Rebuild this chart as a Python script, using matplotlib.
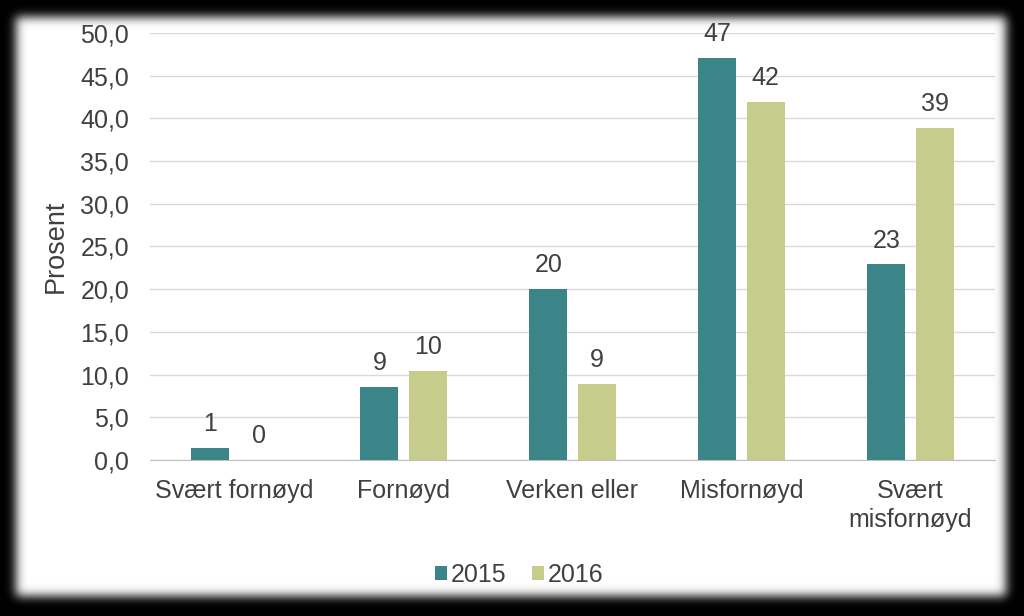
import numpy as np
import matplotlib
matplotlib.use("Agg")
import matplotlib.pyplot as plt
from matplotlib.ticker import FuncFormatter

categories = ["Svært fornøyd", "Fornøyd", "Verken eller", "Misfornøyd", "Svært\nmisfornøyd"]
values_2015 = [1.4, 8.6, 20.0, 47.1, 22.9]
values_2016 = [0.0, 10.4, 8.9, 41.9, 38.9]
labels_2015 = ["1", "9", "20", "47", "23"]
labels_2016 = ["0", "10", "9", "42", "39"]
series_names = ["2015", "2016"]

COLOR_2015 = "#3b8588"
COLOR_2016 = "#c6cc8c"
TEXT = "#404040"
GRID = "#d9d9d9"
FS = 18

plt.rcParams["font.family"] = ["Liberation Sans", "DejaVu Sans"]

W, H = 1024, 616
fig = plt.figure(figsize=(W / 100, H / 100), dpi=100)
fig.patch.set_facecolor("black")

# blurred white card on black background
def _blur(arr, sigma):
    r = int(3 * sigma)
    k = np.exp(-0.5 * (np.arange(-r, r + 1) / sigma) ** 2)
    k /= k.sum()
    arr = np.apply_along_axis(lambda m: np.convolve(np.pad(m, r, mode="edge"), k, mode="valid"), 0, arr)
    arr = np.apply_along_axis(lambda m: np.convolve(np.pad(m, r, mode="edge"), k, mode="valid"), 1, arr)
    return arr

card = np.zeros((H, W))
card[17:596, 16:1006] = 1.0
card = _blur(card, 5)
bg = fig.add_axes([0, 0, 1, 1], zorder=0)
bg.imshow(card, cmap="gray", vmin=0, vmax=1, aspect="auto", interpolation="bilinear")
bg.axis("off")

ax = fig.add_axes([150 / W, 1 - 460 / H, 845 / W, 427 / H], zorder=1)
ax.patch.set_alpha(0)

x = np.arange(len(categories))
width = 0.225
offset = 0.1425
bars1 = ax.bar(x - offset, values_2015, width, color=COLOR_2015, label=series_names[0], zorder=3)
bars2 = ax.bar(x + offset, values_2016, width, color=COLOR_2016, label=series_names[1], zorder=3)

for bars, labels in ((bars1, labels_2015), (bars2, labels_2016)):
    for b, lab in zip(bars, labels):
        ax.annotate(lab, (b.get_x() + b.get_width() / 2, b.get_height()),
                    xytext=(0, 8.5), textcoords="offset points",
                    ha="center", va="bottom", fontsize=FS, color=TEXT)

ax.set_xlim(-0.5, len(categories) - 0.5)
ax.set_ylim(0, 50)
ax.set_yticks(np.arange(0, 51, 5))
ax.yaxis.set_major_formatter(FuncFormatter(lambda v, p: f"{v:.1f}".replace(".", ",")))
ax.set_xticks(x)
ax.set_xticklabels(categories, linespacing=1.22)
ax.tick_params(axis="both", length=0, labelsize=FS, labelcolor=TEXT)
ax.tick_params(axis="x", pad=14)
ax.tick_params(axis="y", pad=15)
ax.grid(axis="y", color=GRID, linewidth=1, zorder=0)
for s in ("top", "right", "left"):
    ax.spines[s].set_visible(False)
ax.spines["bottom"].set_color("#bfbfbf")
ax.set_ylabel("Prosent", fontsize=19.5, color=TEXT, labelpad=8)

fig.legend(loc="center", bbox_to_anchor=(0.507, 1 - 575 / H), ncol=2, frameon=False,
           fontsize=FS, handlelength=0.5, handleheight=0.5, handletextpad=0.15,
           columnspacing=1.0, labelcolor=TEXT)

fig.savefig("out.png", dpi=100, facecolor=fig.get_facecolor())
